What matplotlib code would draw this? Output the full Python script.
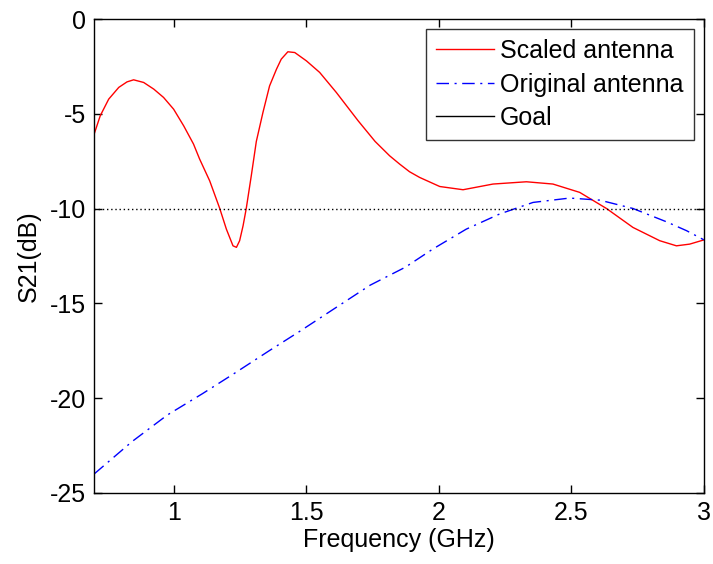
import matplotlib
matplotlib.use("Agg")
import matplotlib.pyplot as plt
from matplotlib.lines import Line2D

plt.rcParams['font.family'] = ['Liberation Sans', 'DejaVu Sans']

freq_scaled = [0.70, 0.723, 0.755, 0.793, 0.824, 0.849, 0.887, 0.925, 0.962, 1.0, 1.038,
               1.075, 1.098, 1.136, 1.174, 1.199, 1.224, 1.237, 1.249, 1.262, 1.274, 1.293,
               1.312, 1.337, 1.362, 1.388, 1.406, 1.431, 1.457, 1.501, 1.551, 1.614, 1.696,
               1.76, 1.815, 1.853, 1.89, 1.928, 2.004, 2.092, 2.205, 2.331, 2.431,
               2.532, 2.633, 2.733, 2.834, 2.897, 2.947, 3.0]
s21_scaled = [-6.07, -5.1, -4.22, -3.6, -3.31, -3.2, -3.34, -3.69, -4.13, -4.75, -5.63,
              -6.59, -7.38, -8.53, -9.99, -11.08, -11.96, -12.04, -11.69, -10.9, -9.99, -8.26,
              -6.45, -4.92, -3.52, -2.64, -2.11, -1.72, -1.76, -2.2, -2.81, -3.87, -5.36,
              -6.45, -7.21, -7.65, -8.05, -8.35, -8.83, -9.0, -8.7, -8.58, -8.70,
              -9.14, -9.99, -10.99, -11.69, -11.96, -11.87, -11.65]

freq_orig = [0.70, 0.844, 0.976, 1.109, 1.226, 1.359, 1.476, 1.609, 1.741, 1.874, 1.978,
             2.104, 2.23, 2.356, 2.494, 2.608, 2.733, 2.859, 2.935, 3.0]
s21_orig = [-24.0, -22.28, -20.89, -19.76, -18.72, -17.51, -16.47, -15.25, -14.04, -13.09, -12.13,
            -11.08, -10.28, -9.67, -9.44, -9.55, -9.99, -10.69, -11.16, -11.64]

goal = -10
labels = ["Scaled antenna", "Original antenna", "Goal"]
xticks = [1, 1.5, 2, 2.5, 3]
yticks = [0, -5, -10, -15, -20, -25]

fig = plt.figure(figsize=(7.13, 5.64), dpi=100)
ax = fig.add_axes([0.132, 0.126, 0.855, 0.840])

dashdot = (0, (9, 4, 1.5, 4))
ax.plot(freq_scaled, s21_scaled, color='red', lw=1.0)
ax.plot(freq_orig, s21_orig, color='blue', lw=1.0, linestyle=dashdot)
ax.axhline(goal, color='black', lw=1.0, linestyle=(0, (1, 2)))

ax.set_xlim(0.7, 3)
ax.set_ylim(-25, 0)
ax.set_xticks(xticks)
ax.set_xticklabels([f"{t:g}" for t in xticks])
ax.set_yticks(yticks)
ax.set_yticklabels([f"{t:g}" for t in yticks])
ax.tick_params(direction='in', top=True, right=True, labelsize=18, length=6, width=1, pad=6)
for s in ax.spines.values():
    s.set_linewidth(1.0)
ax.set_xlabel("Frequency (GHz)", fontsize=18, labelpad=2)
ax.set_ylabel("S21(dB)", fontsize=18, labelpad=6)

handles = [Line2D([], [], color='red', lw=1.0),
           Line2D([], [], color='blue', lw=1.0, linestyle=dashdot),
           Line2D([], [], color='black', lw=1.0)]
leg = ax.legend(handles, labels, loc='upper right', fontsize=18, frameon=True, fancybox=False,
                edgecolor='black', handlelength=2.3, handletextpad=0.25, labelspacing=0.38,
                borderpad=0.4, borderaxespad=0.4)
leg.get_frame().set_linewidth(1.0)

fig.savefig("out.png", dpi=100)
